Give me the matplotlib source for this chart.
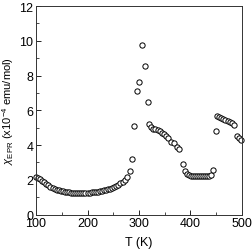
import matplotlib
matplotlib.use("Agg")
import matplotlib.pyplot as plt
from matplotlib.ticker import MultipleLocator

plt.rcParams['font.family'] = ['Liberation Sans', 'DejaVu Sans']
plt.rcParams['mathtext.fontset'] = 'custom'
plt.rcParams['mathtext.rm'] = 'Liberation Sans'
plt.rcParams['mathtext.it'] = 'Liberation Sans:italic'

T = [100, 104, 108, 112, 116, 120, 124, 128, 132, 136, 140, 144, 148, 152, 156,
     160, 164, 168, 172, 176, 180, 184, 188, 192, 196, 200, 204, 208, 212, 216,
     220, 224, 228, 232, 236, 240, 244, 248, 252, 256, 260, 264, 268, 272, 276,
     282, 286, 290, 297, 301, 306, 311, 317, 320,
     324, 328, 332, 336, 340, 344, 348, 352, 357, 363, 368, 374, 378,
     386, 389, 393, 397, 401, 405, 409, 413, 417, 421, 425, 429, 433, 437, 440, 444,
     449, 452, 456, 460, 464, 468, 472, 476, 480, 484, 490, 494, 499]
chi = [2.15, 2.1, 2.02, 1.95, 1.87, 1.78, 1.68, 1.6, 1.53, 1.48, 1.44, 1.4, 1.36, 1.33, 1.31,
       1.3, 1.28, 1.27, 1.26, 1.25, 1.24, 1.23, 1.23, 1.24, 1.25, 1.25, 1.27, 1.28, 1.3, 1.3,
       1.32, 1.35, 1.37, 1.4, 1.42, 1.45, 1.5, 1.55, 1.6, 1.66, 1.72, 1.8, 1.9, 2.0, 2.15,
       2.5, 3.2, 5.1, 7.1, 7.65, 9.75, 8.55, 6.5, 5.2,
       5.05, 4.95, 4.9, 4.85, 4.8, 4.72, 4.65, 4.55, 4.4, 4.2, 4.1, 3.9, 3.8,
       2.9, 2.5, 2.35, 2.27, 2.25, 2.24, 2.23, 2.23, 2.23, 2.23, 2.22, 2.22, 2.23, 2.24, 2.3, 2.55,
       4.8, 5.65, 5.6, 5.55, 5.5, 5.45, 5.4, 5.35, 5.28, 5.15, 4.55, 4.4, 4.32]

fig = plt.figure(figsize=(2.52, 2.51), dpi=100)
ax = fig.add_axes([0.143, 0.141, 0.817, 0.831])
ax.plot(T, chi, 'o', mfc='white', mec='black', ms=3.8, mew=0.7, clip_on=False)
ax.set_xlim(100, 500)
ax.set_ylim(0, 12)
ax.xaxis.set_major_locator(MultipleLocator(100))
ax.xaxis.set_minor_locator(MultipleLocator(50))
ax.yaxis.set_major_locator(MultipleLocator(2))
ax.yaxis.set_minor_locator(MultipleLocator(1))
ax.tick_params(which='both', direction='in', labelsize=9, pad=2)
ax.tick_params(which='major', length=3.5, width=0.6)
ax.tick_params(which='minor', length=2, width=0.5)
for s in ax.spines.values():
    s.set_linewidth(0.7)
    s.set_color('#333333')
ax.set_xlabel('T (K)', fontsize=9, labelpad=5)
ax.set_ylabel(r'$\chi_{\rm EPR}$ (x10$^{-4}$ emu/mol)', fontsize=8, labelpad=2)
fig.savefig('out.png', dpi=100)
